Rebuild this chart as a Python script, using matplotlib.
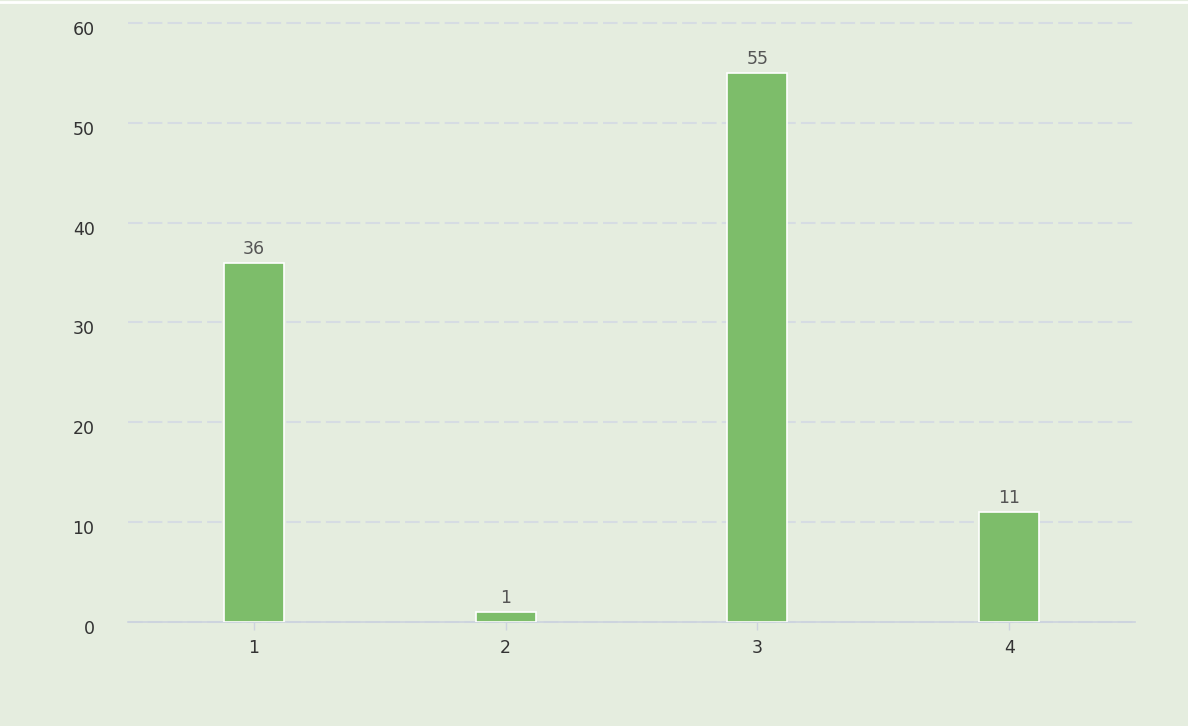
import matplotlib.pyplot as plt
import matplotlib.transforms as mtransforms
import numpy as np

categories = ['1', '2', '3', '4']
values = [36, 1, 55, 11]

bg = '#e5eddf'
bar_color = '#7dbd6a'

fig = plt.figure(figsize=(11.88, 7.26), dpi=100, facecolor=bg)
ax = fig.add_axes([0.1077, 0.1433, 0.8477, 0.825])
ax.set_facecolor(bg)

x = np.arange(len(categories))
bars = ax.bar(x, values, 0.238, color=bar_color, edgecolor='white', linewidth=1.2, zorder=3)
for b, v in zip(bars, values):
    ax.text(b.get_x() + b.get_width() / 2, v + 0.5, str(v), ha='center', va='bottom',
            fontsize=12.5, color='#555555', zorder=4)

ax.set_xlim(-0.5, 3.5)
ax.set_ylim(0, 60)
ax.set_yticks(range(0, 61, 10))
ax.set_xticks(x)
ax.set_xticklabels(categories)
ax.yaxis.grid(True, linestyle=(0, (7, 2.5)), color='#d6dce3', linewidth=1.5, zorder=0)
for gl in ax.get_ygridlines():
    gl.set_clip_on(False)
ax.set_axisbelow(True)

for s in ['top', 'right', 'left']:
    ax.spines[s].set_visible(False)
ax.spines['bottom'].set_color('#ccd3de')
ax.spines['bottom'].set_linewidth(1.2)
ax.tick_params(axis='y', length=0, pad=24, labelsize=12.5, labelcolor='#333333')
ax.tick_params(axis='x', length=6, width=1, color='#ccd3de', pad=6, labelsize=12.5, labelcolor='#333333')
shift = mtransforms.ScaledTranslation(0, -5 / 100, fig.dpi_scale_trans)
for lbl in ax.get_yticklabels():
    lbl.set_transform(lbl.get_transform() + shift)

# white frame line at the top of the picture
fig.add_artist(plt.Line2D([0, 1], [0.997, 0.997], color='white', linewidth=2, transform=fig.transFigure))

fig.savefig('out.png', dpi=100, facecolor=bg)
